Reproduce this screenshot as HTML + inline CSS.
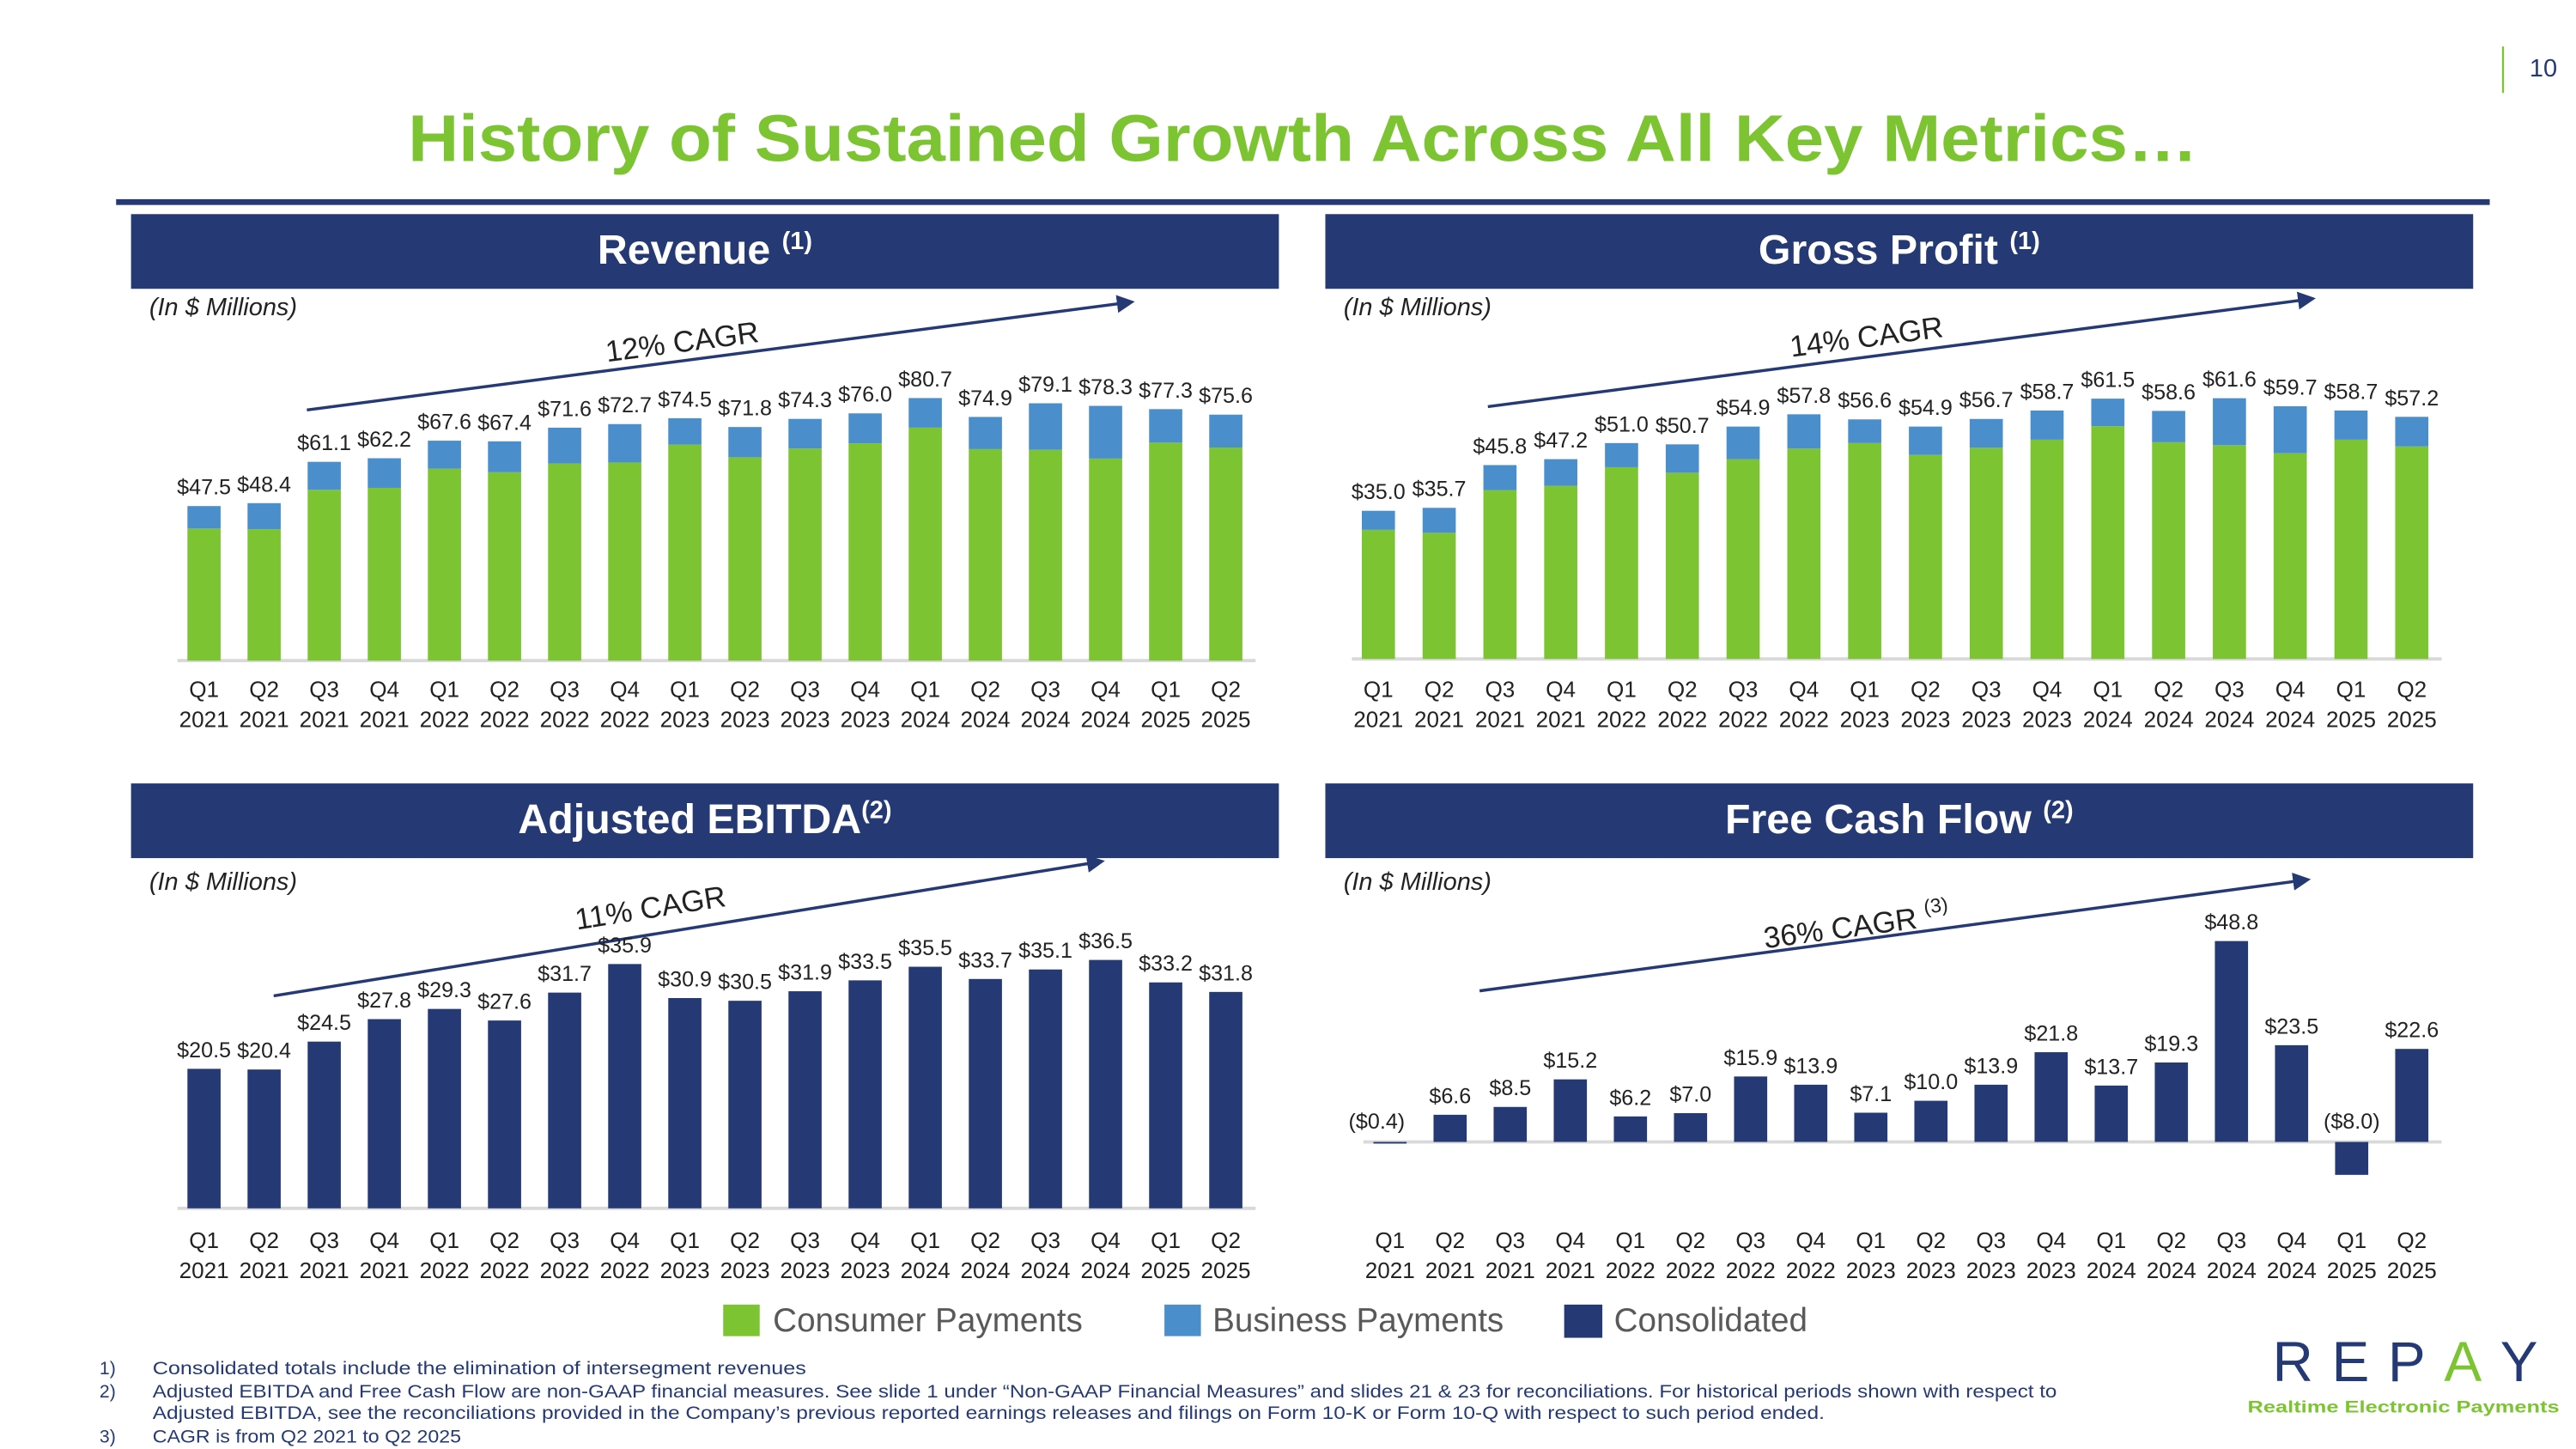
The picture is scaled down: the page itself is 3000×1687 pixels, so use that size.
<!DOCTYPE html>
<html><head><meta charset="utf-8">
<style>
html,body{margin:0;padding:0;background:#fff;}
svg{display:block;font-family:"Liberation Sans",sans-serif;}
</style></head>
<body>
<svg id="root" width="3000" height="1687" viewBox="0 0 1553 873" preserveAspectRatio="none" xmlns="http://www.w3.org/2000/svg">
  <line x1="1509" y1="28" x2="1509" y2="56" stroke="#7dc433" stroke-width="1.2"/>
  <text x="1525" y="46" font-size="15" fill="#253a74">10</text>
  <text x="246" y="97" font-size="40" font-weight="bold" fill="#7dc433" textLength="1079" lengthAdjust="spacingAndGlyphs">History of Sustained Growth Across All Key Metrics…</text>
  <rect x="70" y="120" width="1431" height="3.5" fill="#253a74"/>

  <g>
    <rect x="79" y="129" width="692" height="45" fill="#253a74"/>
    <text x="425" y="159" font-size="25" font-weight="bold" fill="#fff" text-anchor="middle">Revenue <tspan font-size="15" dy="-9">(1)</tspan></text>
  </g>
  <g>
    <rect x="799" y="129" width="692" height="45" fill="#253a74"/>
    <text x="1145" y="159" font-size="25" font-weight="bold" fill="#fff" text-anchor="middle">Gross Profit <tspan font-size="15" dy="-9">(1)</tspan></text>
  </g>
  <g>
    <rect x="79" y="472" width="692" height="45" fill="#253a74"/>
    <text x="425" y="502" font-size="25" font-weight="bold" fill="#fff" text-anchor="middle">Adjusted EBITDA<tspan font-size="15" dy="-9">(2)</tspan></text>
  </g>
  <g>
    <rect x="799" y="472" width="692" height="45" fill="#253a74"/>
    <text x="1145" y="502" font-size="25" font-weight="bold" fill="#fff" text-anchor="middle">Free Cash Flow <tspan font-size="15" dy="-9">(2)</tspan></text>
  </g>

  <text x="90" y="190" font-size="15" font-style="italic" fill="#222">(In $ Millions)</text>
  <text x="810" y="190" font-size="15" font-style="italic" fill="#222">(In $ Millions)</text>
  <text x="90" y="536" font-size="15" font-style="italic" fill="#222">(In $ Millions)</text>
  <text x="810" y="536" font-size="15" font-style="italic" fill="#222">(In $ Millions)</text>

  <defs>
    <marker id="ah" viewBox="0 0 10 10" refX="8" refY="5" markerWidth="6" markerHeight="6" orient="auto">
      <path d="M0,0 L10,5 L0,10 z" fill="#253a74"/>
    </marker>
  </defs>
  <g>
    <line x1="185" y1="247" x2="682" y2="182" stroke="#253a74" stroke-width="1.8" marker-end="url(#ah)"/>
    <text x="412" y="212" font-size="18" fill="#222" text-anchor="middle" transform="rotate(-7.5 412 212)">12% CAGR</text>
  </g>
  <g>
    <line x1="897" y1="245" x2="1394" y2="180" stroke="#253a74" stroke-width="1.8" marker-end="url(#ah)"/>
    <text x="1126" y="209" font-size="18" fill="#222" text-anchor="middle" transform="rotate(-7.5 1126 209)">14% CAGR</text>
  </g>
  <g>
    <line x1="165" y1="600" x2="664" y2="519" stroke="#253a74" stroke-width="1.8" marker-end="url(#ah)"/>
    <text x="393" y="553" font-size="18" fill="#222" text-anchor="middle" transform="rotate(-9 393 553)">11% CAGR</text>
  </g>
  <g>
    <line x1="892" y1="597" x2="1391" y2="530" stroke="#253a74" stroke-width="1.8" marker-end="url(#ah)"/>
    <text x="1120" y="564" font-size="18" fill="#222" text-anchor="middle" transform="rotate(-7.5 1120 564)">36% CAGR <tspan font-size="12" dy="-8">(3)</tspan></text>
  </g>

  <g id="charts"></g>

  <g>
    <rect x="436" y="786" width="22" height="19" fill="#7dc433"/>
    <text x="466" y="802" font-size="20" fill="#595959">Consumer Payments</text>
    <rect x="702" y="786" width="22" height="19" fill="#4a8fcc"/>
    <text x="731" y="802" font-size="20" fill="#595959">Business Payments</text>
    <rect x="943" y="786" width="23" height="20" fill="#253a74"/>
    <text x="973" y="802" font-size="20" fill="#595959">Consolidated</text>
  </g>

  <g font-size="11" fill="#253a74">
    <text x="60" y="828">1)</text><text x="92" y="828" textLength="394" lengthAdjust="spacingAndGlyphs">Consolidated totals include the elimination of intersegment revenues</text>
    <text x="60" y="842">2)</text><text x="92" y="842" textLength="1148" lengthAdjust="spacingAndGlyphs">Adjusted EBITDA and Free Cash Flow are non-GAAP financial measures.  See slide 1 under “Non-GAAP Financial Measures” and slides 21 &amp; 23 for reconciliations. For historical periods shown with respect to</text>
    <text x="92" y="855" textLength="1008" lengthAdjust="spacingAndGlyphs">Adjusted EBITDA, see the reconciliations provided in the Company’s previous reported earnings releases and filings on Form 10-K or Form 10-Q with respect to such period ended.</text>
    <text x="60" y="869">3)</text><text x="92" y="869" textLength="186" lengthAdjust="spacingAndGlyphs">CAGR is from Q2 2021 to Q2 2025</text>
  </g>

  <g>
    <text x="1370" y="832" font-size="34" fill="#253a74" textLength="160" lengthAdjust="spacing">REP<tspan fill="#7dc433">A</tspan>Y</text>
    <text x="1355" y="851" font-size="10" font-weight="bold" fill="#7dc433" textLength="188" lengthAdjust="spacingAndGlyphs">Realtime Electronic Payments</text>
  </g>
</svg>
<script>
const quarters = ["Q1","Q2","Q3","Q4","Q1","Q2","Q3","Q4","Q1","Q2","Q3","Q4","Q1","Q2","Q3","Q4","Q1","Q2"];
const years = ["2021","2021","2021","2021","2022","2022","2022","2022","2023","2023","2023","2023","2024","2024","2024","2024","2025","2025"];
const revConsumer = [40.6,40.4,52.5,53.1,59.0,57.9,60.6,60.9,66.4,62.5,65.2,66.8,71.6,65.0,64.8,62.1,67.0,65.5];
const revBusiness = [6.9,8.0,8.6,9.1,8.6,9.5,11.0,11.8,8.1,9.3,9.1,9.2,9.1,9.9,14.3,16.2,10.3,10.1];
const revLabels = ["$47.5","$48.4","$61.1","$62.2","$67.6","$67.4","$71.6","$72.7","$74.5","$71.8","$74.3","$76.0","$80.7","$74.9","$79.1","$78.3","$77.3","$75.6"];
const gpConsumer = [30.5,29.8,39.9,40.9,45.3,44.0,47.2,49.7,51.0,48.2,49.9,51.8,55.0,51.2,50.5,48.6,51.8,50.2];
const gpBusiness = [4.5,5.9,5.9,6.3,5.7,6.7,7.7,8.1,5.6,6.7,6.8,6.9,6.5,7.4,11.1,11.1,6.9,7.0];
const gpLabels = ["$35.0","$35.7","$45.8","$47.2","$51.0","$50.7","$54.9","$57.8","$56.6","$54.9","$56.7","$58.7","$61.5","$58.6","$61.6","$59.7","$58.7","$57.2"];
const ebitdaValues = [20.5,20.4,24.5,27.8,29.3,27.6,31.7,35.9,30.9,30.5,31.9,33.5,35.5,33.7,35.1,36.5,33.2,31.8];
const ebitdaLabels = ["$20.5","$20.4","$24.5","$27.8","$29.3","$27.6","$31.7","$35.9","$30.9","$30.5","$31.9","$33.5","$35.5","$33.7","$35.1","$36.5","$33.2","$31.8"];
const fcfValues = [-0.4,6.6,8.5,15.2,6.2,7.0,15.9,13.9,7.1,10.0,13.9,21.8,13.7,19.3,48.8,23.5,-8.0,22.6];
const fcfLabels = ["($0.4)","$6.6","$8.5","$15.2","$6.2","$7.0","$15.9","$13.9","$7.1","$10.0","$13.9","$21.8","$13.7","$19.3","$48.8","$23.5","($8.0)","$22.6"];

const NS = "http://www.w3.org/2000/svg";
const root = document.getElementById("charts");
const GREEN = "#7dc433", BLUE = "#4a8fcc", NAVY = "#253a74";

function mk(tag, attrs, parent) {
  const e = document.createElementNS(NS, tag);
  for (const k in attrs) e.setAttribute(k, attrs[k]);
  parent.appendChild(e);
  return e;
}

function chart(name, x0, x1, base, pxPerUnit, tickY, seriesList, labels) {
  const g = mk("g", {}, root);
  
  
  const n = quarters.length;
  const xAt = i => x0 + (x1 - x0) * i / (n - 1);
  const yAt = v => base - v * pxPerUnit;
  const bw = 20;
  const axis = mk("line", {x1: x0 - 16, x2: x1 + 18, y1: base, y2: base, stroke: "#d9d9d9", "stroke-width": 2}, g);
  
  
  for (let i = 0; i < n; i++) {
    let acc = 0;
    let minY = base;
    seriesList.forEach(s => {
      const v = s.values[i];
      const ya = yAt(acc), yb = yAt(acc + v);
      const r = mk("rect", {x: xAt(i) - bw / 2, y: Math.min(ya, yb), width: bw, height: Math.max(Math.abs(ya - yb), 0.8), fill: s.color}, g);
      
      
      acc += v;
      minY = Math.min(minY, yb);
    });
    const isNeg = acc < 0;
    const ly = isNeg ? base - 8 : minY - 7;
    const lx = (isNeg && i === 0) ? xAt(i) - 8 : xAt(i);
    const t = mk("text", {x: lx, y: ly, "font-size": 13, "text-anchor": "middle", fill: "#222"}, g);
    t.textContent = labels[i];
    
    
    const q = mk("text", {x: xAt(i), y: tickY, "font-size": 13.5, "text-anchor": "middle", fill: "#222"}, g);
    q.textContent = quarters[i];
    
    
    const yr = mk("text", {x: xAt(i), y: tickY + 18, "font-size": 13.5, "text-anchor": "middle", fill: "#222"}, g);
    yr.textContent = years[i];
    
    
  }
}

chart("revenue", 123, 739, 398, 1.96, 420,
  [{key: "consumer", values: revConsumer, color: GREEN}, {key: "business", values: revBusiness, color: BLUE}], revLabels);
chart("gross-profit", 831, 1454, 397, 2.55, 420,
  [{key: "consumer", values: gpConsumer, color: GREEN}, {key: "business", values: gpBusiness, color: BLUE}], gpLabels);
chart("ebitda", 123, 739, 728, 4.1, 752,
  [{key: "consolidated", values: ebitdaValues, color: NAVY}], ebitdaLabels);
chart("fcf", 838, 1454, 688, 2.48, 752,
  [{key: "consolidated", values: fcfValues, color: NAVY}], fcfLabels);
</script>
</body></html>
